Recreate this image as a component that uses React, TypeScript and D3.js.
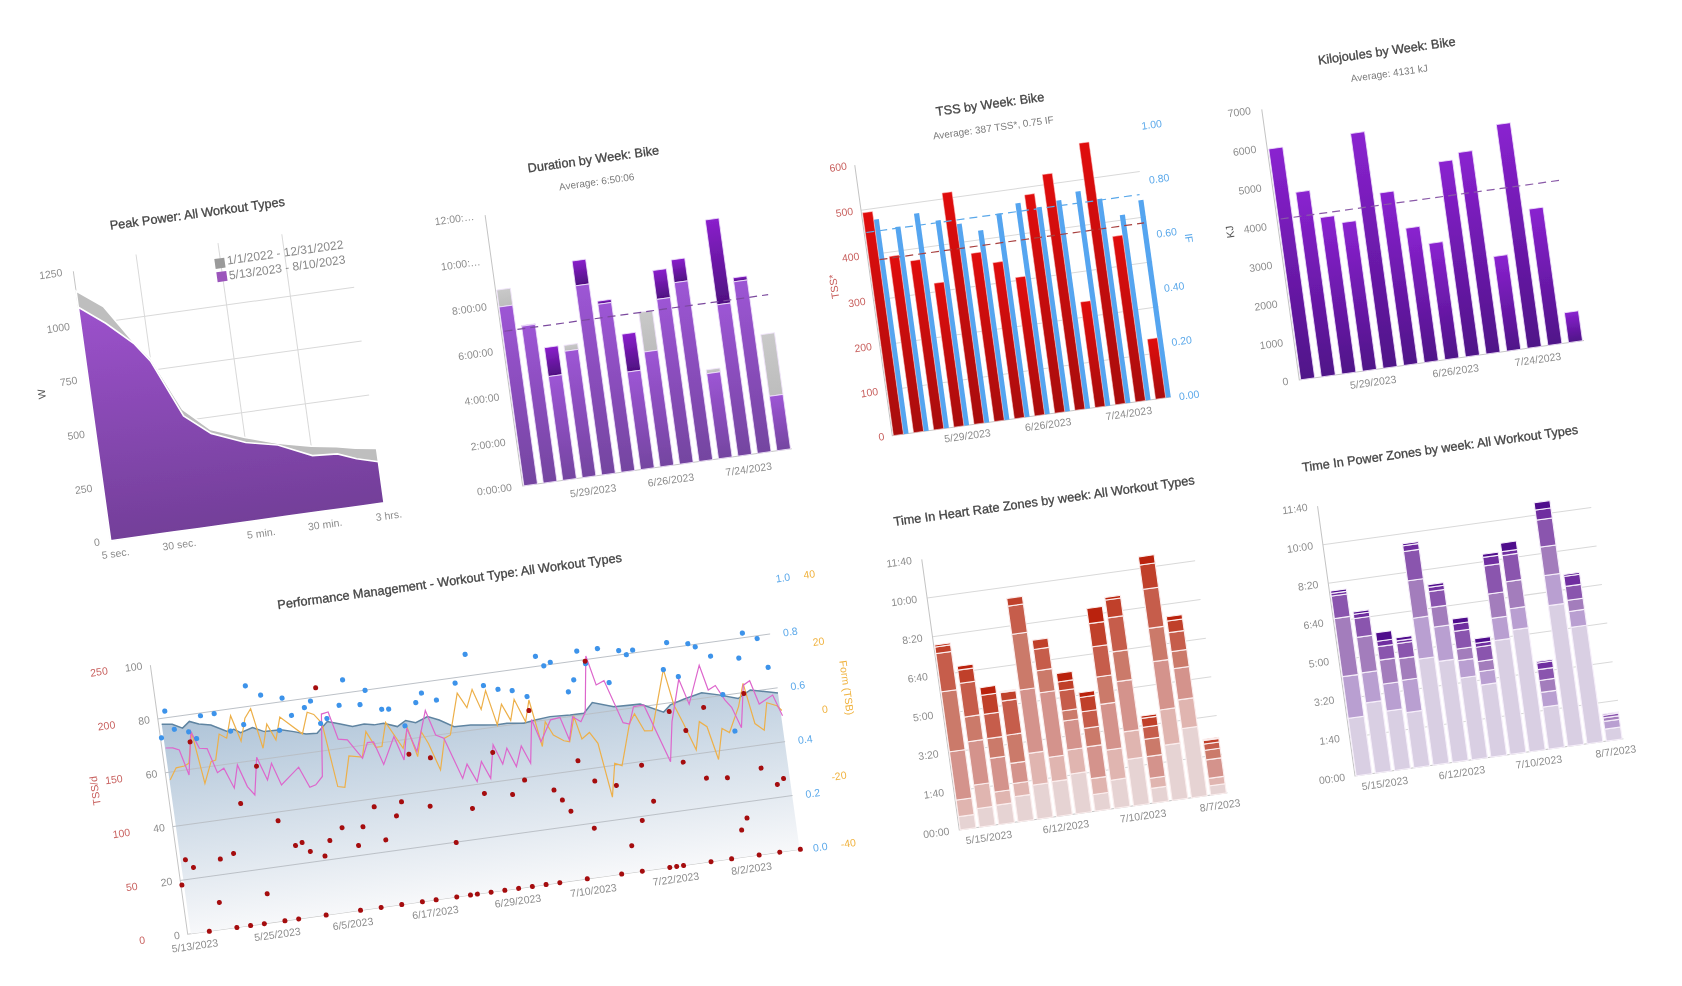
import React from "react";
import * as d3 from "d3";

const FONT = "'Liberation Sans', Arial, sans-serif";
const ROT = -7.9;

const weeks = ["5/8/2023","5/15/2023","5/22/2023","5/29/2023","6/5/2023","6/12/2023","6/19/2023","6/26/2023","7/3/2023","7/10/2023","7/17/2023","7/24/2023","7/31/2023","8/7/2023"];
const weekTicksA = ["5/29/2023","6/26/2023","7/24/2023"];
const weekTicksB = ["5/15/2023","6/12/2023","7/10/2023","8/7/2023"];

// Peak power
const peakSeconds = [5,10,20,30,60,120,300,720,1800,3600,6000,10800];
const peakCurrent = [1083,993,884,790,522,425,362,330,260,252,218,190];
const peakPrevious = [1158,1071,890,805,552,443,385,338,304,285,267,252];
const peakTicks = [[5,"5 sec."],[30,"30 sec."],[300,"5 min."],[1800,"30 min."],[10800,"3 hrs."]] as [number,string][];
const peakY = [0,250,500,750,1000,1250];

// Duration (hours)
const durMain = [7.92,6.95,4.6,5.6,8.38,7.44,4.32,5.09,7.3,7.92,3.77,6.7,7.6,2.41];
const durTotal = [8.67,6.98,5.88,5.86,9.48,7.58,6.0,6.85,8.58,8.93,3.94,10.46,7.78,5.14];
const durCapGrey = [1,0,0,1,0,0,0,1,0,0,1,0,0,1];
const durAvg = 6.835;
const durLabels = ["0:00:00","2:00:00","4:00:00","6:00:00","8:00:00","10:00:…","12:00:…"];

// TSS / IF
const tssVals = [494,391,375,319,513,373,346,307,484,523,234,580,367,133];
const ifVals = [.793,.755,.794,.758,.735,.70,.752,.78,.755,.77,.793,.755,.685,.729];
const tssAvg = 387, ifAvg = 0.75;
const tssTicks = [0,100,200,300,400,500,600];
const ifTicks = [0,.2,.4,.6,.8,1];

// Kilojoules
const kjVals = [5971,4776,4048,3845,6074,4464,3476,3007,5046,5213,2449,5788,3528,774];
const kjAvg = 4131;
const kjTicks = [0,1000,2000,3000,4000,5000,6000,7000];

// Zones (minutes)
const zoneTicks = [[0,"00:00"],[100,"1:40"],[200,"3:20"],[300,"5:00"],[400,"6:40"],[500,"8:20"],[600,"10:00"],[700,"11:40"]] as [number,string][];
const hrZ1 = [34,48,50,65,88,90,103,43,73,120,38,143,179,24];
const hrZ2 = [43,61,34,34,82,63,62,41,78,71,26,91,74,19];
const hrZ3 = [125,112,87,52,164,167,75,82,118,130,56,125,81,48];
const hrZ4 = [155,64,51,73,144,57,26,48,71,77,45,86,44,25];
const hrZ5 = [99,87,63,88,73,55,52,43,78,88,31,101,49,16];
const hrZ6 = [17,34,49,22,20,24,23,37,60,46,23,63,30,9];
const hrZ7 = [5,10,20,3,0,0,22,12,39,7,6,21,11,3];
const hrColors = ["#e6d3d3","#e0b5b0","#d4938c","#cb7a6b","#c65d4c","#c0412c","#ba2208"];
const pwZ1 = [149,182,154,143,275,262,212,187,295,316,109,365,302,31];
const pwZ2 = [108,78,70,84,106,89,45,35,58,55,38,78,41,20];
const pwZ3 = [151,92,62,56,97,51,30,26,63,70,31,74,29,9];
const pwZ4 = [58,49,35,39,76,41,46,37,73,68,28,70,36,7];
const pwZ5 = [7,11,14,7,15,11,19,10,22,10,17,26,26,3];
const pwZ6 = [6,6,22,8,5,7,13,12,8,22,4,19,5,0];
const pwColors = ["#d9cfe3","#b99fd1","#a37dbc","#8a55ae","#6f2ea0","#4f0a8c"];

// Performance management
const pmcTicks = [[0,"5/13/2023"],[12,"5/25/2023"],[23,"6/5/2023"],[35,"6/17/2023"],[47,"6/29/2023"],[58,"7/10/2023"],[70,"7/22/2023"],[81,"8/2/2023"]] as [number,string][];
const ctl: [number,number][] = [[0.3,77.9],[1.8,77.3],[3.2,75.4],[4.3,77.5],[5.6,76.1],[7.3,75.1],[9.5,71.9],[10.5,72.4],[11.4,70.8],[13.2,72.1],[14.8,70],[17.2,69.8],[19,68.5],[20.7,67],[22.3,66.7],[24,70.5],[25.8,68.9],[27.5,67.4],[29.2,67.7],[30.6,66.9],[32,67],[33.9,65.1],[35.2,66.9],[36.6,65.6],[38.4,67.2],[40,65.4],[42,62.2],[44.4,62],[46.3,61.3],[48.2,60.7],[49.6,60.8],[52,59.9],[53.7,60.5],[55.9,61],[58.8,60.6],[60.8,60.5],[62.2,64],[65.2,61.4],[69,61],[72.2,56.9],[73.3,59.2],[75.3,60.6],[78,62],[80.4,60.4],[83.1,58.1],[85,60.6],[88.9,58.1]];
const atl: [number,number][] = [[0.4,69],[1.4,68.7],[2.3,67.6],[3.2,58],[4.3,73.7],[5.2,67.2],[6.3,66.7],[7.3,57.4],[8.3,58.7],[9.4,50.9],[10.3,59.2],[11.3,50.8],[12.2,47.4],[13.2,61],[14.3,52.2],[15.2,58.1],[16.2,49.7],[19,55.3],[20.2,47.4],[21.1,48],[22.2,50.7],[23.3,73.5],[24.3,73.9],[25.2,63.5],[26.5,62.8],[28.3,55.3],[29.3,60.8],[30.2,60.7],[31.2,52],[33.2,61.6],[34.2,52.6],[35.2,64],[36.2,55],[38.2,69.5],[39.2,60.1],[40.3,58.5],[42.2,42.9],[43.1,47.9],[44.2,41],[45.2,48.1],[46.2,41.5],[47.2,53.6],[48.2,46.1],[49.1,51.7],[50.1,44.5],[51.2,51.8],[52.2,45],[53.2,60.9],[54.1,52.3],[55.9,59.8],[57.3,60.2],[58.2,51.5],[59.1,59.8],[60.2,57.6],[61,60.8],[62.2,81.3],[63.1,70.2],[64.3,71.4],[66.2,55.1],[67.1,54.3],[68,60.4],[69.5,60.5],[72.2,38.5],[73.2,53],[75,68.1],[76,58.5],[78.2,72.2],[79,62.7],[80.1,64],[81.2,58.2],[82,55.2],[83,47.3],[84.1,62.7],[85.1,64],[86,55],[88.1,57.6],[89.1,49.6]];
const tsb: [number,number][] = [[0.4,5.7],[1.5,9],[2.7,9.2],[3.4,9.8],[4.4,18.7],[5.3,3.3],[6.6,9.4],[7.3,9.7],[8.3,17.1],[9.3,15.6],[10.3,22],[11.3,14.2],[12.3,20.7],[13.3,23.2],[14.3,11.2],[15.3,18.1],[16.3,13.1],[17.3,19.6],[20.2,13.8],[21.3,19.9],[22.2,19],[23.2,16.1],[24.2,-3],[25.2,-3.5],[26.4,5.5],[28.3,4.6],[29.3,11.9],[30.4,6.9],[31.3,6.9],[32.3,13.8],[34.3,5.5],[35.3,11.2],[36.2,2.5],[37.2,9.6],[38,5.9],[39.2,-2.3],[40.4,6.8],[41.3,7.5],[43.1,19.4],[44.2,14.8],[45.3,19.9],[46.2,13.7],[47.2,19],[48.2,8.5],[49.2,14.4],[50.2,9.3],[51.1,15.3],[52.3,8.3],[53.2,14.5],[54.2,0.4],[55.1,7.5],[56,3.3],[57.4,1.2],[58.2,0.7],[59.3,7.8],[60,1],[61.2,2.6],[62.2,-0.9],[63.2,-17.2],[64.2,-7.4],[65.2,-8.4],[67.1,3.6],[68,6.2],[69.1,0.8],[70.2,0.6],[73,18],[73.8,7.2],[74.8,1.4],[76.1,-6.8],[77.1,1.3],[78.1,-0.5],[79.1,-10.5],[80.2,-1.6],[81.2,-3.1],[83,4.1],[84.1,10.7],[85,-1.5],[86.2,-3.8],[87.1,4.1],[88.5,2.8],[89.1,1.2]];
const restDays = [3,7,9,11,14,16,20,25,28,31,34,36,39,41,42,44,46,48,50,52,54,58,63,66,70,71,72,76,79,83,86,89];
const tssDots: [number,number][] = [[0,45.6],[1,68.2],[2,60.2],[4,175],[5,25],[6,64.4],[8,67.9],[10,112.5],[12,26.9],[13,144.5],[15,92],[17,67.3],[18,69.2],[19,60],[21,53.9],[22,67.5],[23,208.4],[24,77.6],[26,59.3],[27,75.8],[29,92.6],[30,61],[32,81.5],[33,93.7],[35,136.1],[37,86.1],[38,130.1],[40,49.7],[43,78.7],[45,90.8],[47,127.1],[49,86.3],[51,97.9],[53,160.7],[55,85.1],[56,74.9],[57,63.7],[59,108.8],[60,45.3],[61,88.2],[62,198.6],[64,81.4],[65,24.6],[67,46.3],[68,96.7],[69,62.4],[73,142.1],[74,94.2],[75,122.7],[77,76.7],[78,141.5],[80,74.4],[81,24.9],[82,35.2],[84,149.1],[85,78.9],[87,62],[88,66.6]];
const ifDots: [number,number][] = [[0,.729],[1,.825],[2,.754],[4,.737],[5,.709],[6,.79],[8,.791],[10,.719],[12,.736],[13,.876],[15,.835],[17,.697],[18,.813],[19,.745],[21,.767],[22,.788],[23,.701],[24,.716],[26,.758],[27,.849],[29,.75],[30,.799],[32,.722],[33,.719],[35,.65],[37,.729],[38,.761],[40,.728],[43,.78],[45,.88],[47,.757],[49,.736],[51,.724],[53,.695],[55,.837],[56,.798],[57,.808],[59,.691],[60,.732],[61,.835],[62,.785],[64,.834],[65,.704],[67,.816],[68,.797],[69,.811],[73,.724],[74,.821],[75,.691],[77,.806],[78,.791],[80,.749],[81,.603],[82,.464],[84,.728],[85,.817],[87,.79],[88,.679]];

const TICK = "#8c8c8c";
const AXIS = "#c4c4c4";
const GRID = "#d9d9d9";

function Grad({ id, c1, c2 }: { id: string; c1: string; c2: string }) {
  return (
    <linearGradient id={id} x1="0" y1="0" x2="0" y2="1">
      <stop offset="0" stopColor={c1} />
      <stop offset="1" stopColor={c2} />
    </linearGradient>
  );
}

function T({ x, y, a = ROT, size = 10.5, fill = TICK, weight = 400, stroke = "none", sw = 0, children }: any) {
  return (
    <text transform={`translate(${x},${y}) rotate(${a})`} textAnchor="middle" dy=".35em"
      fontSize={size} fill={fill} fontWeight={weight} fontFamily={FONT} stroke={stroke} strokeWidth={sw}>{children}</text>
  );
}

function Title({ x, y, children }: any) {
  return <T x={x} y={y} size={12.7} fill="#444" stroke="#444" sw={0.3}>{children}</T>;
}
function Sub({ x, y, children }: any) {
  return <T x={x} y={y} size={10} fill="#7a7a7a">{children}</T>;
}

function Panel({ ox, oy, children }: any) {
  return <g transform={`translate(${ox},${oy}) rotate(${ROT})`} fontFamily={FONT}>{children}</g>;
}

function Axes({ W, H }: { W: number; H: number }) {
  return (
    <path d={`M0,${-H}L0,0L${W},0`} fill="none" stroke={AXIS} strokeWidth={1} />
  );
}

function YTicks({ ticks, y, dx = -10, anchor = "end", fill = TICK, fmt = (d: any) => d }: any) {
  const shift = anchor === "end" ? -0.4 : 0.6;
  return (
    <g>
      {ticks.map((t: number, i: number) => (
        <text key={i} x={dx} y={y(t) + shift} dy=".35em" textAnchor={anchor} fontSize={10.5} fill={fill}>{fmt(t, i)}</text>
      ))}
    </g>
  );
}

function WeekTicks({ ticks, x, dy = 15, off = 0 }: any) {
  return (
    <g>
      {ticks.map((t: string) => (
        <text key={t} x={x(t)! + x.bandwidth() / 2 + off} y={dy} textAnchor="middle" fontSize={10.5} fill={TICK}>{t}</text>
      ))}
    </g>
  );
}

function PeakPower() {
  const W = 276, H = 272;
  const x = d3.scaleLog().domain([5, 10800]).range([0, W]);
  const y = d3.scaleLinear().domain([0, 1250]).range([0, -H]);
  const area = d3.area<number>().x((_, i) => x(peakSeconds[i])).y0(0).y1((d) => y(d));
  return (
    <g>
      <Panel ox={110.7} oy={540.7}>
        {[250, 500, 750, 1000].map((v) => <line key={v} x1={0} x2={W} y1={y(v)} y2={y(v)} stroke={GRID} />)}
        {[30, 300, 1800].map((v) => <line key={v} x1={x(v)} x2={x(v)} y1={0} y2={-H - 8} stroke={GRID} />)}
        <Axes W={W} H={H} />
        <path d={area(peakPrevious)!} fill="#bebebe" stroke="#fff" strokeWidth={1.6} />
        <path d={area(peakCurrent)!} fill="url(#peakG)" stroke="#fff" strokeWidth={1.6} />
        <YTicks ticks={peakY} y={y} dx={-11} />
        {peakTicks.map(([s, l]) => <text key={l} x={x(s) + 3} y={17} textAnchor="middle" fontSize={10.5} fill={TICK}>{l}</text>)}
      </Panel>
      <Title x={197.3} y={213.3}>Peak Power: All Workout Types</Title>
      <T x={41.7} y={394} a={-97.9} fill="#555">W</T>
      <rect transform={`translate(214.3,259) rotate(${ROT})`} width={10} height={10} fill="#9a9a9a" />
      <rect transform={`translate(216.3,272.3) rotate(${ROT})`} width={10} height={10} fill="#9b55bb" />
      <g transform={`translate(227.5,264.5) rotate(${ROT})`}><text fontSize={12} fill="#8a8a8a" fontFamily={FONT}>1/1/2022 - 12/31/2022</text></g>
      <g transform={`translate(229.5,279.5) rotate(${ROT})`}><text fontSize={12} fill="#8a8a8a" fontFamily={FONT}>5/13/2023 - 8/10/2023</text></g>
    </g>
  );
}

function Duration() {
  const W = 271.6, H = 273.5;
  const x = d3.scaleBand().domain(weeks).range([0, W]).paddingInner(0.3).paddingOuter(0.06);
  const y = d3.scaleLinear().domain([0, 12]).range([0, -H]);
  return (
    <g>
      <Panel ox={522.7} oy={486}>
        <Axes W={W} H={H} />
        {weeks.map((w, i) => {
          const top = Math.max(durTotal[i], durMain[i]);
          return (
            <g key={w} stroke="#f1e4fb" strokeWidth={0.8}>
              <rect x={x(w)} width={x.bandwidth()} y={y(top)} height={y(durMain[i]) - y(top)}
                fill={durCapGrey[i] ? "url(#greyG)" : "url(#capG)"} />
              <rect x={x(w)} width={x.bandwidth()} y={y(durMain[i])} height={-y(durMain[i])} fill="url(#durG)" />
            </g>
          );
        })}
        <line x1={W * 0.012} x2={W * 0.992} y1={y(durAvg)} y2={y(durAvg)} stroke="#7b4a9e" strokeWidth={1.2} strokeDasharray="8 5" />
        <YTicks ticks={[0, 2, 4, 6, 8, 10, 12]} y={y} dx={-11} fmt={(_: any, i: number) => durLabels[i]} />
        <WeekTicks ticks={weekTicksA} x={x} dy={18} off={2} />
      </Panel>
      <Title x={593.3} y={159}>Duration by Week: Bike</Title>
      <Sub x={596.7} y={181.7}>Average: 6:50:06</Sub>
    </g>
  );
}

function Tss() {
  const W = 281.4, H = 273.1;
  const x = d3.scaleBand().domain(weeks).range([0, W]).paddingInner(0.29).paddingOuter(0.055);
  const y = d3.scaleLinear().domain([0, 600]).range([0, -H]);
  const y2 = d3.scaleLinear().domain([0, 1]).range([0, -H]);
  const bw = x.bandwidth();
  const red = "#c8605e", blue = "#5aa8ea";
  return (
    <g>
      <Panel ox={892.3} oy={435.7}>
        {[100, 200, 300, 400, 500].map((v) => <line key={v} x1={0} x2={W} y1={y(v)} y2={y(v)} stroke={GRID} />)}
        <Axes W={W} H={H} />
        {weeks.map((w, i) => (
          <rect key={w} x={x(w)! + bw * 0.7} width={bw * 0.36} y={y2(ifVals[i])} height={-y2(ifVals[i])} fill="#55a5f0" />
        ))}
        {weeks.map((w, i) => (
          <rect key={w} x={x(w)} width={bw * 0.7} y={y(tssVals[i])} height={-y(tssVals[i])} fill="url(#tssG)" stroke="#ffd9d9" strokeWidth={0.5} />
        ))}
        <line x1={W * 0.041} x2={W * 0.99} y1={y(tssAvg)} y2={y(tssAvg)} stroke="#a8403f" strokeWidth={1.2} strokeDasharray="8 5" />
        <line x1={W * 0.008} x2={W * 0.988} y1={y2(ifAvg)} y2={y2(ifAvg)} stroke="#5aa8ea" strokeWidth={1.2} strokeDasharray="8 5" />
        <YTicks ticks={tssTicks} y={y} dx={-8} fill={red} />
        <g transform={`translate(${W},0)`}>
          <YTicks ticks={ifTicks} y={y2} dx={8} anchor="start" fill={blue} fmt={(d: number) => d3.format(".2f")(d)} />
        </g>
        <WeekTicks ticks={weekTicksA} x={x} dy={14} off={5} />
      </Panel>
      <Title x={990} y={104}>TSS by Week: Bike</Title>
      <Sub x={993.3} y={127.7}>Average: 387 TSS*, 0.75 IF</Sub>
      <T x={834} y={286.7} a={-97.9} fill="#c8605e">TSS*</T>
      <T x={1189} y={238} a={82.1} fill="#5aa8ea">IF</T>
    </g>
  );
}

function Kj() {
  const W = 287.4, H = 273.2;
  const x = d3.scaleBand().domain(weeks).range([0, W]).paddingInner(0.32).paddingOuter(0.07);
  const y = d3.scaleLinear().domain([0, 7000]).range([0, -H]);
  return (
    <g>
      <Panel ox={1299.3} oy={380}>
        <Axes W={W} H={H} />
        {weeks.map((w, i) => (
          <rect key={w} x={x(w)} width={x.bandwidth()} y={y(kjVals[i])} height={-y(kjVals[i])} fill="url(#kjG)" stroke="#f1e4fb" strokeWidth={0.8} />
        ))}
        <line x1={W * 0.0127} x2={W * 0.9925} y1={y(kjAvg + 20)} y2={y(kjAvg + 20)} stroke="#8a5aa8" strokeWidth={1.2} strokeDasharray="8 5" />
        <YTicks ticks={kjTicks} y={y} dx={-11} />
        <WeekTicks ticks={weekTicksA} x={x} dy={16} off={2} />
      </Panel>
      <Title x={1386.7} y={50.7}>Kilojoules by Week: Bike</Title>
      <Sub x={1389.3} y={73.3}>Average: 4131 kJ</Sub>
      <T x={1230} y={232} a={-97.9} fill="#555">KJ</T>
    </g>
  );
}

function Zones({ ox, oy, W, H, pin, pout, zones, colors, title, tx, ty, stroke }: any) {
  const x = d3.scaleBand().domain(weeks).range([0, W]).paddingInner(pin).paddingOuter(pout);
  const y = d3.scaleLinear().domain([0, 700]).range([0, -H]);
  const rows = weeks.map((_, i) => zones.map((z: number[]) => z[i]));
  const keys = zones.map((_: any, i: number) => i);
  const series = d3.stack<number[], number>().keys(keys).value((d, k) => d[k])(rows);
  return (
    <g>
      <Panel ox={ox} oy={oy}>
        {[100, 200, 300, 400, 500, 600].map((v) => <line key={v} x1={0} x2={W} y1={y(v)} y2={y(v)} stroke={GRID} />)}
        <Axes W={W} H={H} />
        {series.map((s, k) => (
          <g key={k} fill={colors[k]}>
            {s.map((d, i) => d[1] > d[0] ? (
              <rect key={i} x={x(weeks[i])} width={x.bandwidth()} y={y(d[1])} height={y(d[0]) - y(d[1])} stroke={stroke} strokeWidth={1.1} />
            ) : null)}
          </g>
        ))}
        <YTicks ticks={zoneTicks.map((t) => t[0])} y={y} dx={-10} fmt={(_: any, i: number) => zoneTicks[i][1]} />
        <WeekTicks ticks={weekTicksB} x={x} dy={15} />
      </Panel>
      <Title x={tx} y={ty}>{title}</Title>
    </g>
  );
}

function Pmc() {
  const W = 618.2, H = 271.8;
  const x = d3.scaleLinear().domain([-0.15, 88.95]).range([0, W]);
  const yC = d3.scaleLinear().domain([0, 100]).range([0, -H]);
  const yT = d3.scaleLinear().domain([0, 250]).range([0, -H]);
  const yI = d3.scaleLinear().domain([0, 1]).range([0, -H]);
  const yF = d3.scaleLinear().domain([-40, 40]).range([0, -H]);
  const area = d3.area<[number, number]>().x((d) => x(d[0])).y0(0).y1((d) => yC(d[1]));
  const ctlLine = d3.line<[number, number]>().x((d) => x(d[0])).y((d) => yC(d[1]));
  const atlLine = d3.line<[number, number]>().x((d) => x(d[0])).y((d) => yC(d[1]));
  const tsbLine = d3.line<[number, number]>().x((d) => x(d[0])).y((d) => yF(d[1]));
  const red = "#c8605e", blue = "#5aa8ea", orange = "#f0b23e";
  return (
    <g>
      <Panel ox={187.7} oy={934.3}>
        <Axes W={W} H={H} />
        <path d={area(ctl)!} fill="url(#ctlG)" />
        {[20, 40, 60, 80].map((v) => <line key={v} x1={0} x2={W} y1={yC(v)} y2={yC(v)} stroke="#b9bec4" strokeWidth={0.9} />)}
        <path d={ctlLine(ctl)!} fill="none" stroke="#5f84a1" strokeWidth={1.5} />
        <path d={tsbLine(tsb)!} fill="none" stroke="#edb04a" strokeWidth={1.2} />
        <path d={atlLine(atl)!} fill="none" stroke="#dd66cc" strokeWidth={1.2} />
        {ifDots.map((d) => <circle key={d[0]} cx={x(d[0])} cy={yI(d[1])} r={2.6} fill="#3c93ea" />)}
        {tssDots.map((d) => <circle key={d[0]} cx={x(d[0])} cy={yT(d[1])} r={2.5} fill="#a50a10" />)}
        {restDays.map((d) => <circle key={d} cx={x(d)} cy={yT(0)} r={2.5} fill="#a50a10" />)}
        <YTicks ticks={[0, 20, 40, 60, 80, 100]} y={yC} dx={-8} />
        <YTicks ticks={[0, 50, 100, 150, 200, 250]} y={yT} dx={-43} fill={red} />
        <g transform={`translate(${W},0)`}>
          <YTicks ticks={[0, .2, .4, .6, .8, 1]} y={yI} dx={13} anchor="start" fill={blue} fmt={(d: number) => d3.format(".1f")(d)} />
          <YTicks ticks={[-40, -20, 0, 20, 40]} y={yF} dx={41} anchor="start" fill={orange} />
        </g>
        {pmcTicks.map(([d, l]) => <text key={l} x={x(d) + 4.5} y={16} textAnchor="middle" fontSize={10.5} fill={TICK}>{l}</text>)}
      </Panel>
      <Title x={449.5} y={581}>Performance Management - Workout Type: All Workout Types</Title>
      <T x={95} y={790.7} a={-97.9} fill="#c8605e">TSS/d</T>
      <T x={846.7} y={687.7} a={82.1} fill="#f0b23e">Form (TSB)</T>
    </g>
  );
}

export default function App() {
  return (
    <svg width={1682} height={986} viewBox="0 0 1682 986" style={{ position: "fixed", left: 0, top: 0, background: "#fff" }}>
      <defs>
        <Grad id="peakG" c1="#9c52cc" c2="#733f99" />
        <Grad id="durG" c1="#9d55d5" c2="#7445a0" />
        <Grad id="capG" c1="#8a20cc" c2="#4e1080" />
        <Grad id="greyG" c1="#c9c9c9" c2="#bdbdbd" />
        <Grad id="tssG" c1="#e01010" c2="#a80808" />
        <Grad id="kjG" c1="#8a22d0" c2="#4f1288" />
        <Grad id="ctlG" c1="#afc4d8" c2="#f7f8fa" />
        <filter id="soft" x="0" y="0" width="100%" height="100%" filterUnits="userSpaceOnUse">
          <feGaussianBlur stdDeviation="0.5" />
        </filter>
      </defs>
      <g filter="url(#soft)">
        <rect width={1682} height={986} fill="#fff" />
        <PeakPower />
        <Duration />
        <Tss />
        <Kj />
        <Pmc />
        <Zones ox={959.3} oy={830} W={270.6} H={273.2} pin={0.187} pout={0.05} zones={[hrZ1, hrZ2, hrZ3, hrZ4, hrZ5, hrZ6, hrZ7]} colors={hrColors} stroke="#fbeeee"
          title="Time In Heart Rate Zones by week: All Workout Types" tx={1044} ty={500.7} />
        <Zones ox={1355} oy={776} W={270.9} H={272.5} pin={0.177} pout={0.06} zones={[pwZ1, pwZ2, pwZ3, pwZ4, pwZ5, pwZ6]} colors={pwColors} stroke="#f6effa"
          title="Time In Power Zones by week: All Workout Types" tx={1440} ty={448.3} />
      </g>
    </svg>
  );
}
